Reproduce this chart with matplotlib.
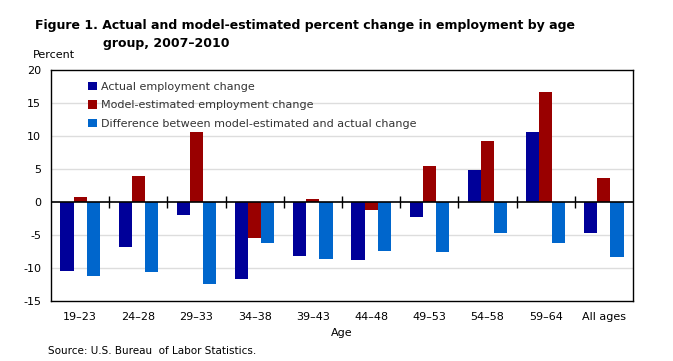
import matplotlib.pyplot as plt
import numpy as np

ages = ["19\u201323", "24\u201328", "29\u201333", "34\u201338", "39\u201343",
        "44\u201348", "49\u201353", "54\u201358", "59\u201364", "All ages"]
actual = [-10.4, -6.8, -1.9, -11.7, -8.2, -8.8, -2.2, 4.8, 10.6, -4.7]
model = [0.8, 3.9, 10.6, -5.4, 0.5, -1.2, 5.4, 9.3, 16.6, 3.7]
diff = [-11.2, -10.6, -12.4, -6.2, -8.6, -7.4, -7.6, -4.7, -6.2, -8.3]

plt.rcParams["font.family"] = "sans-serif"
plt.rcParams["font.sans-serif"] = "DejaVu Sans"

fig = plt.figure(figsize=(6.73, 3.61), dpi=100)
ax = fig.add_axes([51 / 673, 1 - 301 / 361, 582 / 673, 231 / 361])

x = np.arange(len(ages))
w = 0.225
ax.bar(x - w, actual, w, color="#000099", label="Actual employment change", zorder=3)
ax.bar(x, model, w, color="#990000", label="Model-estimated employment change", zorder=3)
ax.bar(x + w, diff, w, color="#0066cc",
       label="Difference between model-estimated and actual change", zorder=3)

ax.set_xlim(-0.5, len(ages) - 0.5)
ax.set_ylim(-15, 20)
ax.set_yticks(range(-15, 21, 5))
ax.set_yticklabels([str(v) for v in range(-15, 21, 5)], fontsize=8)
ax.tick_params(axis="y", length=0, pad=7)
for v in [-10, -5, 5, 10, 15]:
    ax.axhline(v, color="#dddddd", lw=1, zorder=1)
ax.axhline(0, color="black", lw=1.2, zorder=4)

# small tick marks on the zero line between groups
bounds = x[:-1] + 0.5
ax.plot(bounds, np.zeros_like(bounds), ls="none", marker="|", ms=8, mew=1,
        color="black", zorder=4)

ax.set_xticks(x)
ax.set_xticklabels(ages, fontsize=8)
ax.tick_params(axis="x", length=0, pad=8)
ax.set_xlabel("Age", fontsize=8, labelpad=4)

for s in ax.spines.values():
    s.set_linewidth(1)

leg = ax.legend(loc="upper left", bbox_to_anchor=(0.05, 0.985), frameon=False,
                fontsize=8, handlelength=0.8, handleheight=0.8,
                handletextpad=0.3, labelspacing=0.75, borderaxespad=0.35)
for t in leg.get_texts():
    t.set_color("#333333")

fig.text(35 / 673, 1 - 25 / 361,
         "Figure 1. Actual and model-estimated percent change in employment by age",
         fontsize=9, fontweight="bold", va="center")
fig.text(103 / 673, 1 - 44 / 361, "group, 2007\u20132010",
         fontsize=9, fontweight="bold", va="center")
fig.text(33 / 673, 1 - 55 / 361, "Percent", fontsize=8, va="center")
fig.text(48 / 673, 1 - 351 / 361, "Source: U.S. Bureau  of Labor Statistics.",
         fontsize=7.5, va="center")

fig.savefig("out.png", dpi=100)
